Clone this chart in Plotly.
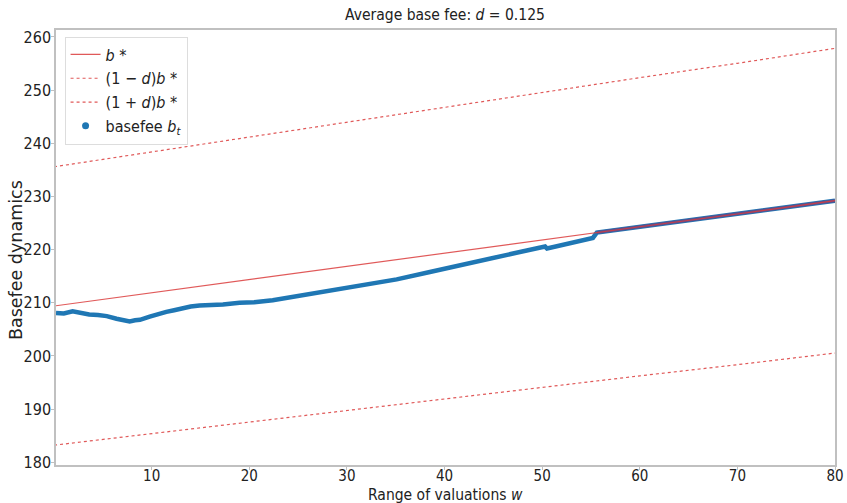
import plotly.graph_objects as go

d = 0.125

# b* (optimal base fee) read at regular x positions
bstar_x = [0, 10, 20, 30, 40, 50, 60, 70, 80]
bstar_y = [209.4, 211.9, 214.3, 216.8, 219.3, 221.8, 224.3, 226.7, 229.2]

# Average basefee b_t
base_x = [0.2, 1.0, 1.9, 2.8, 3.6, 4.5, 5.4, 6.4, 7.2, 7.75, 8.3, 8.8, 9.8, 10.6,
          11.5, 12.3, 13.2, 14.0, 14.9, 16.0, 17.3, 19.0, 20.5, 22.4, 24.8, 28.2,
          31.6, 35.1, 38.5, 41.9, 45.3, 48.7, 50.3, 50.5, 52.0, 53.9, 55.2, 55.6,
          60, 65, 70, 75, 80]
base_y = [208.1, 208.0, 208.4, 208.0, 207.8, 207.7, 207.5, 207.0, 206.8, 206.5,
          206.7, 206.8, 207.4, 207.9, 208.3, 208.6, 209.0, 209.3, 209.5, 209.5,
          209.7, 210.0, 210.1, 210.5, 211.2, 212.4, 213.3, 214.4, 215.8, 217.2,
          218.7, 220.0, 220.6, 220.2, 220.9, 221.6, 222.2, 223.2,
          224.3, 225.5, 226.7, 228.0, 229.2]
join_x = 55.6

xticks = [10, 20, 30, 40, 50, 60, 70, 80]
yticks = [180, 190, 200, 210, 220, 230, 240, 250, 260]

red = "rgba(218,60,60,0.85)"
blue = "#1f77b4"
cond = "DejaVu Sans Condensed, DejaVu Sans"
txt = "#222222"

lower = [(1 - d) * v for v in bstar_y]
upper = [(1 + d) * v for v in bstar_y]

fig = go.Figure()

fig.add_trace(go.Scatter(x=base_x, y=base_y, mode="lines",
                         line=dict(color=blue, width=4.5), showlegend=False,
                         hoverinfo="skip"))
tail_x = [x for x in base_x if x >= join_x]
tail_y = [y for x, y in zip(base_x, base_y) if x >= join_x]
fig.add_trace(go.Scatter(x=tail_x, y=tail_y, mode="lines",
                         line=dict(color="#5a4f8e", width=3), showlegend=False))

fig.add_trace(go.Scatter(x=bstar_x, y=bstar_y, mode="lines", name="<i>b</i> *",
                         line=dict(color=red, width=1.2)))
fig.add_trace(go.Scatter(x=bstar_x, y=lower, mode="lines",
                         name="(1 − <i>d</i>)<i>b</i> *",
                         line=dict(color=red, width=1.2, dash="dot")))
fig.add_trace(go.Scatter(x=bstar_x, y=upper, mode="lines",
                         name="(1 + <i>d</i>)<i>b</i> *",
                         line=dict(color=red, width=1.2, dash="dot")))
fig.add_trace(go.Scatter(x=[None], y=[None], mode="markers",
                         name="basefee <i>b</i><sub><i>t</i></sub>",
                         marker=dict(color=blue, size=7)))

axis_common = dict(showline=True, mirror=True, linecolor="#c0c0c0", linewidth=1.5,
                   showgrid=False, zeroline=False, ticks="outside", ticklen=3,
                   tickcolor="#c0c0c0", automargin=False)

fig.update_layout(
    width=847, height=503,
    margin=dict(l=56, r=12, t=30, b=38),
    paper_bgcolor="white", plot_bgcolor="white",
    font=dict(family="DejaVu Sans", color=txt),
    title=dict(text="Average base fee: <i>d</i> = 0.125", x=445 / 847, xanchor="center",
               y=1 - 15 / 503, yanchor="middle", font=dict(size=15.5, family=cond, color=txt)),
    xaxis=dict(range=[0.2, 80], tickvals=xticks, ticklabelstandoff=-7,
               tickfont=dict(size=15, family=cond),
               **axis_common),
    yaxis=dict(range=[179.5, 261.3], tickvals=yticks, ticklabelstandoff=-3,
               tickfont=dict(size=16, family=cond),
               **axis_common),
    legend=dict(x=0.011, y=0.985, xanchor="left", yanchor="top",
                bgcolor="rgba(255,255,255,0.9)", bordercolor="#dddddd", borderwidth=1,
                font=dict(size=16, family=cond), tracegroupgap=0, itemwidth=30),
    annotations=[
        dict(text="Range of valuations <i>w</i>", xref="paper", yref="paper",
             x=0.5, y=(465 - 495) / 435, xanchor="center", yanchor="middle",
             showarrow=False, font=dict(size=15.5, family=cond, color=txt)),
        dict(text="Basefee dynamics", xref="paper", yref="paper",
             x=(16 - 56) / 779, y=(465 - 260) / 435, xanchor="center", yanchor="middle",
             textangle=-90, showarrow=False, font=dict(size=17.5, color=txt)),
    ],
)

fig.write_html("out.html")
